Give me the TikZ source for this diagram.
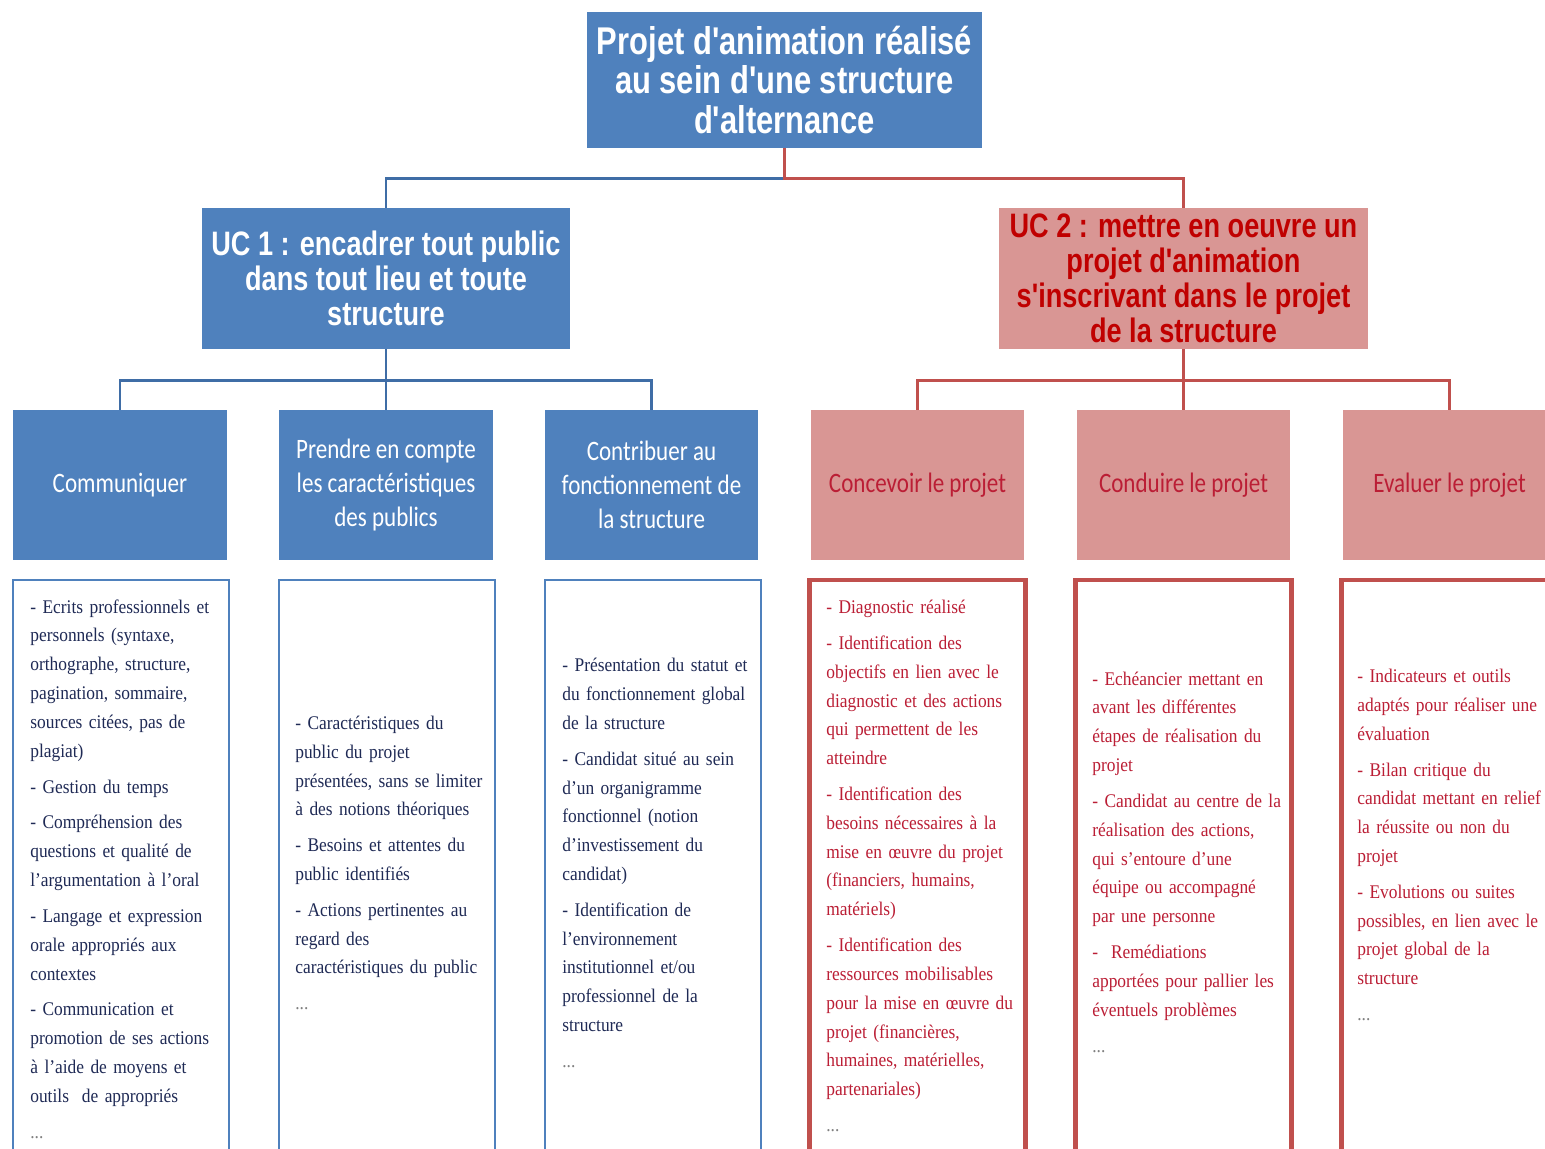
\documentclass[tikz,border=0pt]{standalone}
\usepackage{fontspec}
\setmainfont{Liberation Serif}
\newfontfamily\headfont{Liberation Sans}[FakeStretch=0.8]
\newfontfamily\boxfont{Carlito}[FakeStretch=0.82]
\newfontfamily\listfont{Liberation Serif}[FakeStretch=0.9]

\definecolor{ucblue}{HTML}{4F81BD}
\definecolor{linkblue}{HTML}{3F6DA6}
\definecolor{ucpink}{HTML}{D99694}
\definecolor{ucred}{HTML}{C0504D}
\definecolor{titlered}{HTML}{C00000}
\definecolor{listnavy}{HTML}{1F2A55}
\definecolor{listred}{HTML}{BB1E35}

\tikzset{
  topnode/.style={rectangle, fill=ucblue, text=white, align=center, inner sep=0pt,
    font={\headfont\bfseries\fontsize{22}{22.5}\selectfont}},
  ucnode/.style={rectangle, align=center, inner sep=0pt, minimum width=7.38cm, minimum height=2.82cm,
    font={\headfont\bfseries\fontsize{19.3}{19.8}\selectfont}},
  skillnode/.style={rectangle, align=center, inner sep=0pt, minimum width=4.28cm, minimum height=3cm,
    font={\boxfont\fontsize{16}{19.5}\selectfont}},
  listbox/.style={rectangle, fill=white, inner sep=0pt, minimum width=4.32cm, minimum height=11.6cm},
  listtext/.style={anchor=west, align=left, text width=4.2cm, inner sep=0pt,
    font={\listfont\fontsize{11}{16.4}\selectfont\spaceskip=0.17em plus 0.02em\hyphenpenalty=10000}},
  bluelink/.style={draw=linkblue, line width=1.6pt},
  redlink/.style={draw=ucred, line width=1.6pt}
}

\begin{document}
\begin{tikzpicture}[x=0.02cm, y=-0.02cm]

\useasboundingbox (0,0) rectangle (1545,1149);
\clip (0,0) rectangle (1545,1149);

  % nodes

  \node[style = topnode, minimum width=7.9cm, minimum height=2.72cm] (projet) at (784.5, 80)
    {Projet d'animation réalisé\\au sein d'une structure\\d'alternance};

  \node[style = ucnode, fill=ucblue, text=white] (uc1) at (386, 278.5)
    {UC 1 : encadrer tout public\\dans tout lieu et toute\\structure};
  \node[style = ucnode, fill=ucpink, text=titlered] (uc2) at (1183.5, 278.5)
    {UC 2 : mettre en oeuvre un\\projet d'animation\\s'inscrivant dans le projet\\de la structure};

  \node[style = skillnode, fill=ucblue, text=white] (comm) at (120, 485) {Communiquer};
  \node[style = skillnode, fill=ucblue, text=white] (prendre) at (386, 485)
    {Prendre en compte\\les caractéristiques\\des publics};
  \node[style = skillnode, fill=ucblue, text=white] (contrib) at (651.5, 485)
    {Contribuer au\\fonctionnement de\\la structure};
  \node[style = skillnode, fill=ucpink, text=listred] (concevoir) at (917.5, 485) {Concevoir le projet};
  \node[style = skillnode, fill=ucpink, text=listred] (conduire) at (1183.5, 485) {Conduire le projet};
  \node[style = skillnode, fill=ucpink, text=listred] (evaluer) at (1449.5, 485) {Evaluer le projet};

  % lists

  \node[style = listbox, draw=ucblue, line width=1.6pt] (commList) at (121, 870) {};
  \node[style = listbox, draw=ucblue, line width=1.6pt] (prendreList) at (387, 870) {};
  \node[style = listbox, draw=ucblue, line width=1.6pt] (contribList) at (653, 870) {};
  \node[style = listbox, draw=ucred, line width=2.4pt] (concevoirList) at (917.5, 870) {};
  \node[style = listbox, draw=ucred, line width=2.4pt] (conduireList) at (1183.5, 870) {};
  \node[style = listbox, draw=ucred, line width=2.4pt] (evaluerList) at (1449.5, 870) {};

  \node[style = listtext, text=listnavy] (commText) at (30, 869)
    {- Ecrits professionnels et\\ personnels (syntaxe,\\ orthographe, structure,\\
     pagination, sommaire,\\ sources citées, pas de\\ plagiat)\\[4pt]
     - Gestion du temps\\[4pt]
     - Compréhension des\\ questions et qualité de\\ l’argumentation à l’oral\\[4pt]
     - Langage et expression\\ orale appropriés aux\\ contextes\\[4pt]
     - Communication et\\ promotion de ses actions\\ à l’aide de moyens et\\
     outils \ de appropriés\\[4pt]
     {\color{gray}...}};
  \node[style = listtext, text=listnavy] (prendreText) at (295, 863)
    {- Caractéristiques du\\ public du projet\\ présentées, sans se limiter\\
     à des notions théoriques\\[4pt]
     - Besoins et attentes du\\ public identifiés\\[4pt]
     - Actions pertinentes au\\ regard des\\ caractéristiques du public\\[4pt]
     {\color{gray}...}};
  \node[style = listtext, text=listnavy] (contribText) at (562, 863)
    {- Présentation du statut et\\ du fonctionnement global\\ de la structure\\[4pt]
     - Candidat situé au sein\\ d’un organigramme\\ fonctionnel (notion\\
     d’investissement du\\ candidat)\\[4pt]
     - Identification de\\ l’environnement\\ institutionnel et/ou\\
     professionnel de la\\ structure\\[4pt]
     {\color{gray}...}};
  \node[style = listtext, text=listred] (concevoirText) at (826, 866)
    {- Diagnostic réalisé\\[4pt]
     - Identification des\\ objectifs en lien avec le\\ diagnostic et des actions\\
     qui permettent de les\\ atteindre\\[4pt]
     - Identification des\\ besoins nécessaires à la\\ mise en œuvre du projet\\
     (financiers, humains,\\ matériels)\\[4pt]
     - Identification des\\ ressources mobilisables\\ pour la mise en œuvre du\\
     projet (financières,\\ humaines, matérielles,\\ partenariales)\\[4pt]
     {\color{gray}...}};
  \node[style = listtext, text=listred] (conduireText) at (1092, 862)
    {- Echéancier mettant en\\ avant les différentes\\ étapes de réalisation du\\ projet\\[4pt]
     - Candidat au centre de la\\ réalisation des actions,\\ qui s’entoure d’une\\
     équipe ou accompagné\\ par une personne\\[4pt]
     - \ Remédiations\\ apportées pour pallier les\\ éventuels problèmes\\[4pt]
     {\color{gray}...}};
  \node[style = listtext, text=listred] (evaluerText) at (1357, 845)
    {- Indicateurs et outils\\ adaptés pour réaliser une\\ évaluation\\[4pt]
     - Bilan critique du\\ candidat mettant en relief\\ la réussite ou non du\\ projet\\[4pt]
     - Evolutions ou suites\\ possibles, en lien avec le\\ projet global de la\\ structure\\[4pt]
     {\color{gray}...}};

  % edges

  \draw[bluelink] (projet.south) -- ++(0,30) -| (uc1.north);
  \draw[redlink] (projet.south) -- ++(0,30) -| (uc2.north);

  \draw[bluelink] (uc1.south) -- ++(0,31) -| (comm.north);
  \draw[bluelink] (uc1.south) -- (prendre.north);
  \draw[bluelink] (uc1.south) -- ++(0,31) -| (contrib.north);

  \draw[redlink] (uc2.south) -- ++(0,31) -| (concevoir.north);
  \draw[redlink] (uc2.south) -- (conduire.north);
  \draw[redlink] (uc2.south) -- ++(0,31) -| (evaluer.north);

\end{tikzpicture}
\end{document}
